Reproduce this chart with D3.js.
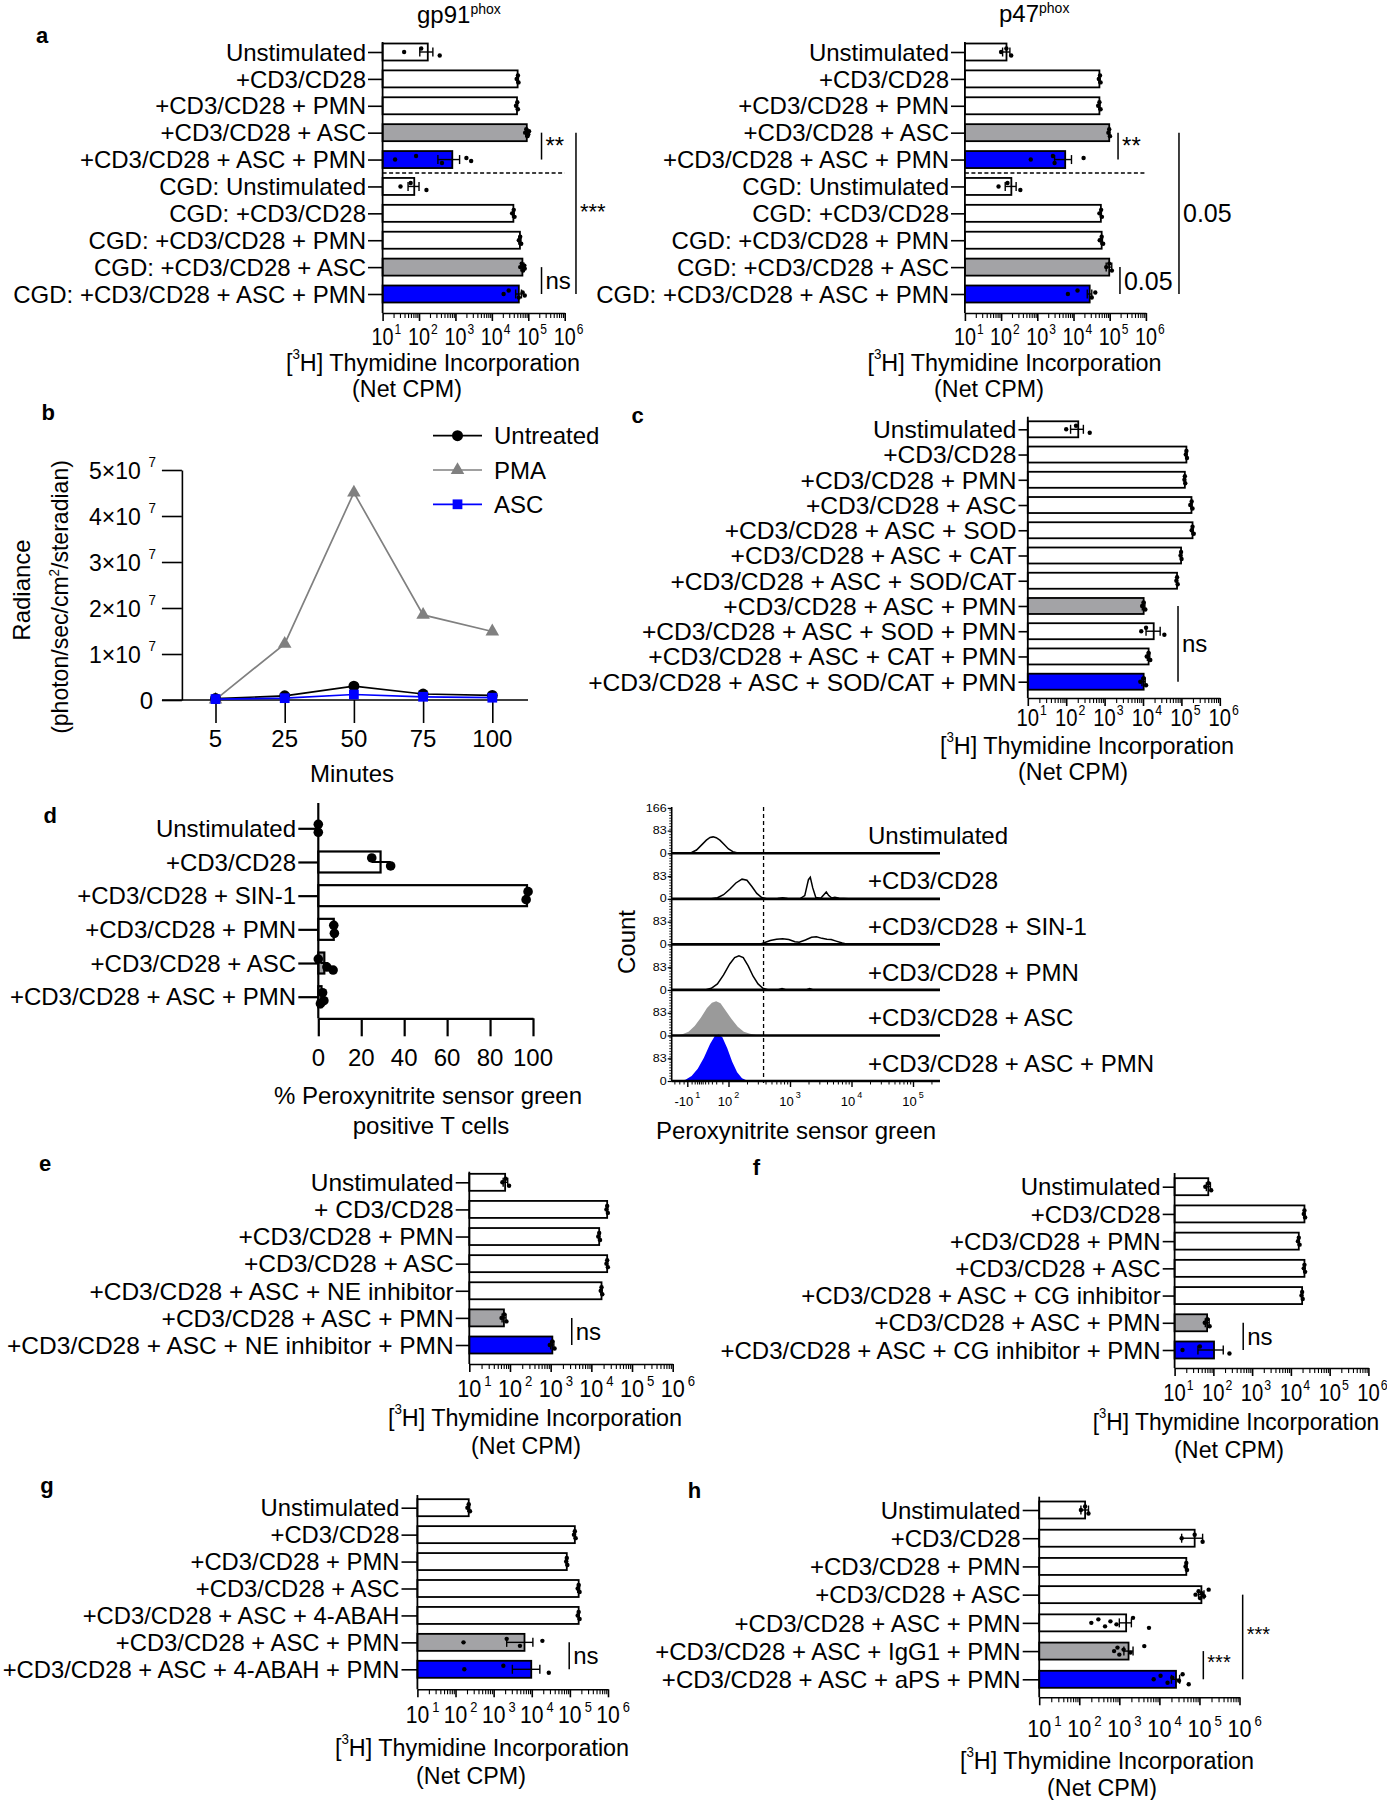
<!DOCTYPE html>
<html><head><meta charset="utf-8">
<script src="https://cdn.jsdelivr.net/npm/d3@7"></script>
<style>body{margin:0;background:#fff}svg{display:block}text{font-family:"Liberation Sans",Arial,sans-serif}</style>
</head><body>
<svg id="fig" width="1387" height="1800"></svg>
<script>
// ---------------- DATA ----------------
const logTicks = [10, 100, 1000, 10000, 100000, 1000000];
const logTickExps = ["1", "2", "3", "4", "5", "6"];

const aCats = ["Unstimulated", "+CD3/CD28", "+CD3/CD28 + PMN", "+CD3/CD28 + ASC", "+CD3/CD28 + ASC + PMN",
  "CGD: Unstimulated", "CGD: +CD3/CD28", "CGD: +CD3/CD28 + PMN", "CGD: +CD3/CD28 + ASC", "CGD: +CD3/CD28 + ASC + PMN"];
const aGpVals = [174, 51000, 49000, 91000, 820, 74, 39000, 59000, 69000, 55000];
const aGpPts = [[39, 115, 370], [48000, 52000, 54000], [46000, 50000, 52000], [82000, 88000, 95000, 105000, 100000],
  [22, 83, 427, 2000, 2700], [31, 59, 160], [36000, 40000, 42000], [55000, 60000, 64000],
  [60000, 66000, 72000, 78000, 80000], [21000, 29000, 55000, 70000, 80000]];
const aGpErr = [[105, 240], [48500, 53500], [47000, 51000], [85000, 97000], [330, 1300], [50, 100],
  [37000, 41000], [55000, 63000], [63000, 76000], [45000, 65000]];
const aP47Vals = [141, 52000, 52000, 97000, 5900, 192, 57000, 60000, 97000, 28000];
const aP47Pts = [[100, 140, 190], [50000, 54000, 56000], [48000, 52000, 56000], [92000, 97000, 102000],
  [660, 2700, 3000, 19000], [85, 150, 340], [52000, 58000, 61000], [53000, 60000, 66000],
  [80000, 97000, 115000], [7000, 12900, 32000, 40000]];
const aP47Err = [[110, 175], [50000, 54000], [50000, 54000], [93000, 101000], [3000, 8800], [130, 260],
  [55000, 59000], [57000, 63000], [80000, 114000], [24000, 32000]];

const bMinutes = ["5", "25", "50", "75", "100"];
const bUntreated = [0.3e6, 0.9e6, 3.0e6, 1.3e6, 1.0e6];
const bPMA = [0.1e6, 12.2e6, 45.1e6, 18.5e6, 14.9e6];
const bASC = [0.2e6, 0.4e6, 1.2e6, 0.7e6, 0.5e6];
const bYTicks = [0, 1e7, 2e7, 3e7, 4e7, 5e7];
const bYTickLabels = ["0", "1×10", "2×10", "3×10", "4×10", "5×10"];
const bLegend = ["Untreated", "PMA", "ASC"];

const cCats = ["Unstimulated", "+CD3/CD28", "+CD3/CD28 + PMN", "+CD3/CD28 + ASC", "+CD3/CD28 + ASC + SOD",
  "+CD3/CD28 + ASC + CAT", "+CD3/CD28 + ASC + SOD/CAT", "+CD3/CD28 + ASC + PMN", "+CD3/CD28 + ASC + SOD + PMN",
  "+CD3/CD28 + ASC + CAT + PMN", "+CD3/CD28 + ASC + SOD/CAT + PMN"];
const cVals = [206, 135000, 123000, 183000, 195000, 98000, 77000, 10400, 19000, 14000, 10400];
const cPts = [[100, 180, 410], [130000, 135000, 140000], [120000, 123000, 126000], [170000, 185000, 195000],
  [185000, 195000, 210000], [95000, 98000, 101000], [74000, 77000, 80000], [9500, 10400, 11500],
  [9000, 12000, 36000], [12500, 14000, 15500], [8500, 10400, 12000]];
const cErr = [[130, 280], [131000, 139000], [120000, 126000], [176000, 190000], [188000, 202000], [95000, 101000],
  [75000, 79000], [9600, 11200], [12000, 28000], [13000, 15000], [9400, 11400]];

const dCats = ["Unstimulated", "+CD3/CD28", "+CD3/CD28 + SIN-1", "+CD3/CD28 + PMN", "+CD3/CD28 + ASC", "+CD3/CD28 + ASC + PMN"];
const dVals = [0, 29, 97.2, 7.2, 2.8, 1.5];
const dPts = [[0, 0], [24.9, 33.7], [97.7, 96.8], [7.2, 7.5], [0, 4.0, 6.9], [2.0, 2.6, 1.0]];
const dErr = [null, [24.9, 33.7], [96.8, 97.7], null, [1.0, 4.6], [1.0, 2.0]];
const dTicks = [0, 20, 40, 60, 80, 100];

// histograms: [display-decade position, count]
const histLabels = ["Unstimulated", "+CD3/CD28", "+CD3/CD28 + SIN-1", "+CD3/CD28 + PMN", "+CD3/CD28 + ASC", "+CD3/CD28 + ASC + PMN"];
const histUnstim = [[1.30,0],[1.40,3],[1.48,12],[1.56,30],[1.64,48],[1.70,58],[1.75,60],[1.80,57],[1.86,48],[1.93,32],[2.00,16],[2.07,6],[2.15,1],[2.22,0]];
const histCD3 = [[1.72,0],[1.82,4],[1.92,15],[2.02,35],[2.12,58],[2.22,72],[2.30,68],[2.38,45],[2.46,20],[2.54,5],[2.62,0],[2.80,1],[2.88,4],[2.96,1],[3.16,0],[3.24,12],[3.30,70],[3.33,79],[3.37,40],[3.42,5],[3.50,2],[3.55,15],[3.59,25],[3.63,12],[3.68,3],[3.73,6],[3.80,2],[3.95,0]];
const histSIN1 = [[2.50,0],[2.58,6],[2.68,14],[2.78,19],[2.88,21],[2.98,18],[3.08,10],[3.15,8],[3.25,16],[3.35,26],[3.43,28],[3.52,22],[3.60,19],[3.67,18],[3.75,12],[3.85,5],[3.95,0]];
const histPMN = [[1.62,0],[1.72,6],[1.82,22],[1.92,55],[2.02,95],[2.10,118],[2.17,125],[2.24,118],[2.32,88],[2.40,50],[2.48,22],[2.56,6],[2.64,1],[2.80,0],[2.87,5],[2.94,0],[3.26,0],[3.32,5],[3.38,0]];
const histASC = [[1.15,0],[1.25,4],[1.35,14],[1.45,35],[1.55,65],[1.65,100],[1.73,120],[1.80,125],[1.87,118],[1.95,92],[2.05,60],[2.15,32],[2.25,14],[2.35,6],[2.45,2],[2.55,0]];
const histASCPMN = [[1.20,0],[1.30,5],[1.40,18],[1.50,45],[1.60,85],[1.70,135],[1.78,165],[1.84,170],[1.90,160],[1.98,120],[2.06,70],[2.14,32],[2.22,10],[2.30,2],[2.38,0]];
const histGate = 2.57;
const histYTicks = [0, 83, 166];
const histXTicks = [1.33, 2, 3, 4, 5];
const histXTickBase = ["-10", "10", "10", "10", "10"];
const histXTickExp = ["1", "2", "3", "4", "5"];

const eCats = ["Unstimulated", "+ CD3/CD28", "+CD3/CD28 + PMN", "+CD3/CD28 + ASC", "+CD3/CD28 + ASC + NE inhibitor",
  "+CD3/CD28 + ASC + PMN", "+CD3/CD28 + ASC + NE inhibitor + PMN"];
const eVals = [76, 24500, 15600, 24500, 17800, 71, 1100];
const ePts = [[65, 78, 95], [23500, 24500, 25500], [14800, 15600, 16400], [23500, 24500, 25500], [17000, 17800, 18600], [62, 72, 82], [950, 1100, 1250]];
const eErr = [[68, 88], [23800, 25200], [15000, 16200], [23800, 25200], [17200, 18400], [64, 80], [1000, 1200]];

const fCats = ["Unstimulated", "+CD3/CD28", "+CD3/CD28 + PMN", "+CD3/CD28 + ASC", "+CD3/CD28 + ASC + CG inhibitor",
  "+CD3/CD28 + ASC + PMN", "+CD3/CD28 + ASC + CG inhibitor + PMN"];
const fVals = [74, 22400, 16000, 22400, 19500, 69, 104];
const fPts = [[62, 75, 88], [21500, 22400, 23300], [15200, 16000, 16800], [21500, 22400, 23300], [18800, 19500, 20200], [60, 70, 80], [16, 45, 260]];
const fErr = [[66, 84], [21800, 23000], [15500, 16500], [21800, 23000], [19000, 20000], [62, 78], [40, 180]];

const gCats = ["Unstimulated", "+CD3/CD28", "+CD3/CD28 + PMN", "+CD3/CD28 + ASC", "+CD3/CD28 + ASC + 4-ABAH",
  "+CD3/CD28 + ASC + PMN", "+CD3/CD28 + ASC + 4-ABAH + PMN"];
const gVals = [222, 135000, 83000, 170000, 170000, 6450, 9700];
const gPts = [[205, 222, 240], [128000, 135000, 142000], [80000, 83000, 86000], [160000, 170000, 180000], [160000, 170000, 180000], [162, 2200, 4900, 19000], [170, 1800, 28000]];
const gErr = [[210, 235], [130000, 140000], [80000, 86000], [160000, 180000], [165000, 175000], [2200, 10700], [3100, 16300]];

const hCats = ["Unstimulated", "+CD3/CD28", "+CD3/CD28 + PMN", "+CD3/CD28 + ASC", "+CD3/CD28 + ASC + PMN",
  "+CD3/CD28 + ASC + IgG1 + PMN", "+CD3/CD28 + ASC + aPS + PMN"];
const hVals = [140, 76000, 47000, 112000, 1480, 1700, 26000];
const hPts = [[110, 140, 170], [36000, 76000, 120000], [45000, 47000, 49000], [80000, 95000, 105000, 115000, 130000, 170000],
  [200, 300, 440, 600, 850, 2200, 5500], [740, 900, 1000, 1280, 1900, 4200], [7200, 10700, 16000, 21000, 31000, 38000, 54000]];
const hErr = [[110, 170], [36000, 120000], [45000, 49000], [95000, 130000], [1000, 2000], [1300, 2200], [20000, 32000]];

// ---------------- STYLE / HELPERS ----------------
const GRAY = "#a3a3a6", BLUE = "#0000ff", SX = 1.0, FS = 24;
const svg = d3.select("#fig");
svg.append("rect").attr("width", 1387).attr("height", 1800).attr("fill", "#fff");

function addText(g, x, y, parts, o = {}) {
  const size = o.size || FS;
  const t = g.append("text")
    .attr("transform", `translate(${x},${y})` + (o.rot ? ` rotate(${o.rot})` : "") + ` scale(${o.sx ?? SX},1)`)
    .attr("text-anchor", o.anchor || "start")
    .attr("font-size", size)
    .attr("font-weight", o.weight || "normal")
    .attr("fill", o.fill || "#000")
    .attr("y", o.mid === false ? 0 : size * 0.36);
  if (typeof parts === "string") parts = [parts];
  let cur = 0;
  parts.forEach(p => {
    const isSup = typeof p === "object";
    const target = isSup ? -(p.raise ?? size * 0.45) : 0;
    const ts = t.append("tspan").text(isSup ? p.sup : p).attr("dy", target - cur);
    if (isSup) ts.attr("font-size", p.size ?? Math.round(size * 0.6));
    if (isSup && p.dx) ts.attr("dx", p.dx);
    cur = target;
  });
  return t;
}
// "10" centred on the tick, exponent hanging to the right (one text element)
function powLabel(g, x, y, base, exp, o) {
  const size = o.size, sx = o.sx;
  const half = (base.length * 0.556 * size * sx) / 2;
  addText(g, x - half, y, [base, { sup: exp, size: o.supSize, raise: o.raise, dx: (o.dx || 0) / sx }], { anchor: "start", size, sx });
}
const jit = [0, -3.5, 3.5, -1.5, 1.5, -5, 5];

function logPanel(L, D) {
  const g = svg.append("g");
  const fs = L.fs || FS;
  const x = d3.scaleLog().domain([10, 1e6]).range([L.x0, L.x1]);
  const y = d3.scalePoint().domain(D.cats).range([L.y1, L.yN]);
  g.append("g").selectAll("rect").data(D.vals).join("rect")
    .attr("x", L.x0).attr("y", (v, i) => y(D.cats[i]) - L.barH / 2)
    .attr("width", v => x(v) - L.x0).attr("height", L.barH)
    .attr("fill", (v, i) => D.gray.includes(i) ? GRAY : D.blue.includes(i) ? BLUE : "#fff")
    .attr("stroke", "#000").attr("stroke-width", 1.8);
  D.err.forEach((e, i) => {
    if (!e) return;
    const cy = y(D.cats[i]);
    g.append("line").attr("x1", x(e[0])).attr("x2", x(e[1])).attr("y1", cy).attr("y2", cy).attr("stroke", "#000").attr("stroke-width", 1.4);
    e.forEach(v => g.append("line").attr("x1", x(v)).attr("x2", x(v)).attr("y1", cy - 4.5).attr("y2", cy + 4.5).attr("stroke", "#000").attr("stroke-width", 1.4));
  });
  D.pts.forEach((arr, i) => {
    g.append("g").selectAll("circle").data(arr).join("circle")
      .attr("cx", v => x(v)).attr("cy", (v, j) => y(D.cats[i]) + jit[j % jit.length])
      .attr("r", 2.2).attr("fill", "#000");
  });
  if (D.dashAfter != null) {
    const yy = (y(D.cats[D.dashAfter]) + y(D.cats[D.dashAfter + 1])) / 2;
    g.append("line").attr("x1", L.x0).attr("x2", L.x1).attr("y1", yy).attr("y2", yy)
      .attr("stroke", "#000").attr("stroke-width", 1.5).attr("stroke-dasharray", "4,2.5");
  }
  g.append("g").attr("transform", `translate(${L.x0},0)`)
    .call(d3.axisLeft(y).tickSize(L.x0 - L.labelRight - 2).tickFormat(""))
    .call(a => a.select(".domain").remove())
    .selectAll("line").attr("stroke-width", 1.6);
  g.append("line").attr("x1", L.x0).attr("x2", L.x0).attr("y1", L.yTop).attr("y2", L.axisY).attr("stroke", "#000").attr("stroke-width", 1.8);
  D.cats.forEach(c => addText(g, L.labelRight, y(c), c, { anchor: "end", size: fs }));
  const ax = g.append("g").attr("transform", `translate(0,${L.axisY})`)
    .call(d3.axisBottom(x).tickValues(logTicks).tickSize(8).tickSizeOuter(0).tickFormat(""));
  ax.selectAll("path,line").attr("stroke-width", 1.6);
  g.append("g").attr("transform", `translate(0,${L.axisY})`)
    .call(d3.axisBottom(x).tickValues(x.ticks().filter(v => !logTicks.includes(v))).tickSize(5).tickFormat(""))
    .call(a => a.select(".domain").remove())
    .selectAll("line").attr("stroke-width", 1.1);
  logTicks.forEach((v, i) => powLabel(g, x(v), L.tickY, "10", logTickExps[i], { size: 23, sx: L.tsx || 0.9, supSize: 14, dx: L.supDx ?? 0, raise: 11 }));
  addText(g, L.t1x, L.t1y, ["[", { sup: "3", size: 14, raise: 12 }, "H] Thymidine Incorporation"], { anchor: "middle", size: 24.5, sx: L.titleSx || 0.955 });
  addText(g, L.t2x, L.t2y, "(Net CPM)", { anchor: "middle", size: 24.5, sx: 0.95 });
  (D.sig || []).forEach(s => {
    const xx = x(s.xv), ya = y(D.cats[s.from]), yb = y(D.cats[s.to]);
    g.append("line").attr("x1", xx).attr("x2", xx).attr("y1", ya).attr("y2", yb).attr("stroke", "#000").attr("stroke-width", 1.5);
    addText(g, xx + 4, (ya + yb) / 2 + (s.dy || 0), s.label, { size: s.size || 24 });
  });
}

// ---------------- PANEL a ----------------
addText(svg, 36, 35, "a", { weight: "bold", size: 22 });
addText(svg, 417, 23, ["gp91", { sup: "phox", size: 14, raise: 9 }], { mid: false, size: 24 });
addText(svg, 999, 22, ["p47", { sup: "phox", size: 14, raise: 9 }], { mid: false, size: 24 });
logPanel({ x0: 382.6, x1: 564.7, y1: 52, yN: 294, barH: 17, axisY: 313, yTop: 42, labelRight: 366, tickY: 337, t1x: 433, t1y: 362, t2x: 407, t2y: 388, tsx: 0.86, supDx: 1 },
  { cats: aCats, vals: aGpVals, pts: aGpPts, err: aGpErr, gray: [3, 8], blue: [4, 9], dashAfter: 4,
    sig: [{ xv: 231000, from: 3, to: 4, label: "**", size: 24, dy: -1 }, { xv: 2.04e6, from: 3, to: 9, label: "***", size: 22, dy: -2 }, { xv: 231000, from: 8, to: 9, label: "ns" }] });
logPanel({ x0: 964.9, x1: 1145.9, y1: 52, yN: 294, barH: 17, axisY: 313, yTop: 42, labelRight: 949, tickY: 337, t1x: 1014.5, t1y: 362, t2x: 989, t2y: 388, tsx: 0.86, supDx: 1 },
  { cats: aCats, vals: aP47Vals, pts: aP47Pts, err: aP47Err, gray: [3, 8], blue: [4, 9], dashAfter: 4,
    sig: [{ xv: 170000, from: 3, to: 4, label: "**", size: 24, dy: -1 }, { xv: 8.2e6, from: 3, to: 9, label: "0.05", size: 25 }, { xv: 192000, from: 8, to: 9, label: "0.05", size: 25 }] });

// ---------------- PANEL b ----------------
(function () {
  const g = svg.append("g");
  addText(g, 41.5, 411.7, "b", { weight: "bold", size: 22 });
  const x = d3.scalePoint().domain(bMinutes).range([215.5, 492.3]);
  const y = d3.scaleLinear().domain([0, 5e7]).range([700, 470]);
  g.append("g").attr("transform", "translate(181.9,0)")
    .call(d3.axisLeft(y).tickValues(bYTicks).tickSize(20).tickSizeOuter(0).tickFormat(""))
    .selectAll("path,line").attr("stroke-width", 1.6);
  g.append("g").attr("transform", "translate(0,700)")
    .call(d3.axisBottom(x).tickSize(23).tickFormat(""))
    .call(a => a.select(".domain").remove())
    .selectAll("line").attr("stroke-width", 1.6);
  g.append("line").attr("x1", 162).attr("x2", 528).attr("y1", 700).attr("y2", 700).attr("stroke", "#000").attr("stroke-width", 1.6);
  bYTicks.forEach((v, i) => {
    if (i === 0) addText(g, 153, y(v), bYTickLabels[i], { anchor: "end", size: 24 });
    else addText(g, 156, y(v), [bYTickLabels[i], { sup: "7", size: 14, raise: 12, dx: 8 }], { anchor: "end", size: 24, sx: 0.96 });
  });
  bMinutes.forEach(m => addText(g, x(m), 738, m, { anchor: "middle", size: 24 }));
  addText(g, 352, 773, "Minutes", { anchor: "middle", size: 24 });
  addText(g, 21.7, 590, "Radiance", { anchor: "middle", rot: -90, size: 24 });
  addText(g, 59.3, 597, ["(photon/sec/cm", { sup: "2", size: 14, raise: 9 }, "/steradian)"], { anchor: "middle", rot: -90, size: 24, sx: 0.96 });
  const series = [
    { name: bLegend[1], vals: bPMA, color: "#808080", mark: "tri" },
    { name: bLegend[0], vals: bUntreated, color: "#000", mark: "circ" },
    { name: bLegend[2], vals: bASC, color: BLUE, mark: "sq" }];
  const line = d3.line().x((d, i) => x(bMinutes[i])).y(d => y(d));
  const sym = { circ: d3.symbolCircle, tri: d3.symbolTriangle, sq: d3.symbolSquare };
  const symSize = { circ: 95, tri: 80, sq: 95 };
  series.forEach(s => {
    g.append("path").attr("d", line(s.vals)).attr("fill", "none").attr("stroke", s.color).attr("stroke-width", 1.7);
    g.append("g").selectAll("path").data(s.vals).join("path")
      .attr("transform", (d, i) => `translate(${x(bMinutes[i])},${y(d)})`)
      .attr("d", d3.symbol(sym[s.mark], symSize[s.mark])).attr("fill", s.color);
  });
  const legY = d3.scalePoint().domain(bLegend).range([435.7, 504.3]);
  [series[1], series[0], series[2]].forEach(s => {
    const yy = legY(s.name);
    g.append("line").attr("x1", 433).attr("x2", 482).attr("y1", yy).attr("y2", yy).attr("stroke", s.color).attr("stroke-width", 1.7);
    g.append("path").attr("transform", `translate(457.5,${yy})`).attr("d", d3.symbol(sym[s.mark], symSize[s.mark])).attr("fill", s.color);
    addText(g, 494, yy, s.name, { size: 24 });
  });
})();

// ---------------- PANEL c ----------------
addText(svg, 631.5, 415, "c", { weight: "bold", size: 22 });
logPanel({ x0: 1027.8, x1: 1219.8, y1: 429.3, yN: 681.7, barH: 16, axisY: 698, yTop: 416.7, labelRight: 1016.5, tickY: 718, t1x: 1087, t1y: 745, t2x: 1073, t2y: 771, fs: 24.6, tsx: 0.88, supDx: 1 },
  { cats: cCats, vals: cVals, pts: cPts, err: cErr, gray: [7], blue: [10], sig: [{ xv: 81600, from: 7, to: 10, label: "ns" }] });

// ---------------- PANEL d (bars) ----------------
(function () {
  const g = svg.append("g");
  addText(g, 43.5, 815, "d", { weight: "bold", size: 22 });
  const x = d3.scaleLinear().domain([0, 100]).range([318.3, 533]);
  const y = d3.scalePoint().domain(dCats).range([828.3, 996.7]);
  g.append("g").selectAll("rect").data(dVals).join("rect")
    .attr("x", x(0)).attr("y", (v, i) => y(dCats[i]) - 10.5).attr("width", v => x(v) - x(0)).attr("height", 21)
    .attr("fill", (v, i) => i === 4 ? GRAY : "#fff").attr("stroke", "#000").attr("stroke-width", 2.2);
  dErr.forEach((e, i) => {
    if (!e) return;
    const cy = y(dCats[i]);
    g.append("line").attr("x1", x(e[0])).attr("x2", x(e[1])).attr("y1", cy).attr("y2", cy).attr("stroke", "#000").attr("stroke-width", 2);
  });
  dPts.forEach((arr, i) => g.append("g").selectAll("circle").data(arr).join("circle")
    .attr("cx", v => x(v)).attr("cy", (v, j) => y(dCats[i]) + [-4, 4, 7][j % 3]).attr("r", 4.8).attr("fill", "#000"));
  g.append("g").attr("transform", `translate(${x(0)},0)`)
    .call(d3.axisLeft(y).tickSize(20).tickFormat(""))
    .call(a => a.select(".domain").remove())
    .selectAll("line").attr("stroke-width", 2.2);
  g.append("line").attr("x1", x(0)).attr("x2", x(0)).attr("y1", 803).attr("y2", 1018.3).attr("stroke", "#000").attr("stroke-width", 2.2);
  dCats.forEach(c => addText(g, 296, y(c), c, { anchor: "end", size: 24 }));
  g.append("g").attr("transform", "translate(0,1018.3)")
    .call(d3.axisBottom(x).tickValues(dTicks).tickSize(18).tickSizeOuter(0).tickFormat(""))
    .selectAll("path,line").attr("stroke-width", 2.2);
  dTicks.forEach(v => addText(g, x(v), 1057, String(v), { anchor: "middle", size: 24 }));
  addText(g, 428, 1095, "% Peroxynitrite sensor green", { anchor: "middle", size: 24 });
  addText(g, 431, 1125, "positive T cells", { anchor: "middle", size: 24 });
})();

// ---------------- PANEL d (histograms) ----------------
(function () {
  const g = svg.append("g");
  const hx = d3.scaleLinear().domain([2, 5]).range([728.5, 913]);
  const rows = d3.scalePoint().domain(histLabels).range([853.3, 1081]);
  const hy = d3.scaleLinear().domain([0, 166]).range([0, 45.4]);
  const data = [histUnstim, histCD3, histSIN1, histPMN, histASC, histASCPMN];
  const fills = [null, null, null, null, "#9a9a9a", BLUE];
  const x0 = hx.invert(671.7), x1 = hx.invert(940);
  data.forEach((d, i) => {
    const base = rows(histLabels[i]);
    if (fills[i]) {
      g.append("path").attr("d", d3.area().x(p => hx(p[0])).y0(base).y1(p => base - hy(p[1]))(d)).attr("fill", fills[i]);
    } else {
      g.append("path").attr("d", d3.line().x(p => hx(p[0])).y(p => base - hy(p[1]))(d)).attr("fill", "none").attr("stroke", "#000").attr("stroke-width", 1.5);
    }
  });
  data.forEach((d, i) => {
    const base = rows(histLabels[i]);
    g.append("line").attr("x1", hx(x0)).attr("x2", hx(x1)).attr("y1", base).attr("y2", base).attr("stroke", "#000").attr("stroke-width", 2.6);
    const tv = i === 0 ? histYTicks : histYTicks.slice(0, 2);
    g.append("g").attr("transform", `translate(${hx(x0)},${base})`)
      .call(d3.axisLeft(d3.scaleLinear().domain([0, 166]).range([0, -45.4])).tickValues(tv).tickSize(4).tickFormat(""))
      .call(a => a.select(".domain").remove())
      .selectAll("line").attr("stroke-width", 1.2);
    g.append("g").attr("transform", `translate(${hx(x0)},${base})`)
      .call(d3.axisLeft(d3.scaleLinear().domain([0, 166]).range([0, -45.4])).ticks(16).tickSize(2.5).tickFormat(""))
      .call(a => a.select(".domain").remove())
      .selectAll("line").attr("stroke-width", 0.8);
    tv.forEach(v => addText(g, hx(x0) - 5, base - hy(v), String(v), { anchor: "end", size: 10, sx: 1.25 }));
    addText(g, 868, base - 18, histLabels[i], { size: 24 });
  });
  g.append("line").attr("x1", hx(x0)).attr("x2", hx(x0)).attr("y1", 807).attr("y2", rows(histLabels[5])).attr("stroke", "#000").attr("stroke-width", 1.6);
  g.append("line").attr("x1", hx(histGate)).attr("x2", hx(histGate)).attr("y1", 807).attr("y2", 1083)
    .attr("stroke", "#000").attr("stroke-width", 1.3).attr("stroke-dasharray", "4,3");
  const minorU = [];
  [2, 3, 4].forEach(n => [2, 3, 4, 5, 6, 7, 8, 9].forEach(k => minorU.push(n + Math.log10(k))));
  [1.12, 1.2, 1.27, 1.4, 1.45, 1.49, 1.52, 1.55, 1.58, 1.62, 1.67, 1.73, 1.8, 1.9, 5.3].forEach(u => minorU.push(u));
  const base = rows(histLabels[5]);
  g.append("g").attr("transform", `translate(0,${base})`)
    .call(d3.axisBottom(hx).tickValues(histXTicks).tickSize(6).tickFormat(""))
    .call(a => a.select(".domain").remove()).selectAll("line").attr("stroke-width", 1.4);
  g.append("g").attr("transform", `translate(0,${base})`)
    .call(d3.axisBottom(hx).tickValues(minorU).tickSize(3.5).tickFormat(""))
    .call(a => a.select(".domain").remove()).selectAll("line").attr("stroke-width", 1);
  histXTicks.forEach((u, i) => addText(g, hx(u), 1101, [histXTickBase[i], { sup: histXTickExp[i], size: 9, raise: 8, dx: 2 }], { anchor: "middle", size: 13 }));
  addText(g, 626, 942, "Count", { anchor: "middle", rot: -90, size: 24 });
  addText(g, 796, 1130, "Peroxynitrite sensor green", { anchor: "middle", size: 24 });
})();

// ---------------- PANELS e-h ----------------
addText(svg, 39, 1163, "e", { weight: "bold", size: 22 });
logPanel({ x0: 469.3, x1: 672.7, y1: 1182.3, yN: 1345, barH: 17, axisY: 1364, yTop: 1171.7, labelRight: 453.7, tickY: 1389, t1x: 535, t1y: 1417, t2x: 526, t2y: 1445, fs: 24.5, tsx: 0.94, supDx: 3 },
  { cats: eCats, vals: eVals, pts: ePts, err: eErr, gray: [5], blue: [6], sig: [{ xv: 3300, from: 5, to: 6, label: "ns" }] });
addText(svg, 752.7, 1166.7, "f", { weight: "bold", size: 22 });
logPanel({ x0: 1174.6, x1: 1368.4, y1: 1186.7, yN: 1350, barH: 17, axisY: 1368, yTop: 1173, labelRight: 1160.7, tickY: 1393, t1x: 1236, t1y: 1421, t2x: 1229, t2y: 1449, tsx: 0.88, supDx: 1, titleSx: 0.93 },
  { cats: fCats, vals: fVals, pts: fPts, err: fErr, gray: [5], blue: [6], sig: [{ xv: 589, from: 5, to: 6, label: "ns" }] });
addText(svg, 40.2, 1485, "g", { weight: "bold", size: 22 });
logPanel({ x0: 417.4, x1: 608, y1: 1507.7, yN: 1669.3, barH: 17, axisY: 1689.3, yTop: 1495, labelRight: 399.5, tickY: 1715, t1x: 482, t1y: 1747.5, t2x: 471, t2y: 1775, fs: 23.8, tsx: 0.92, supDx: 3 },
  { cats: gCats, vals: gVals, pts: gPts, err: gErr, gray: [5], blue: [6], sig: [{ xv: 96000, from: 5, to: 6, label: "ns" }] });
addText(svg, 687.8, 1490, "h", { weight: "bold", size: 22 });
logPanel({ x0: 1039.2, x1: 1239.5, y1: 1510, yN: 1679.3, barH: 17, axisY: 1697.3, yTop: 1496.7, labelRight: 1020.7, tickY: 1729, t1x: 1107, t1y: 1760, t2x: 1102, t2y: 1787, tsx: 0.94, supDx: 3 },
  { cats: hCats, vals: hVals, pts: hPts, err: hErr, gray: [5], blue: [6],
    sig: [{ xv: 125000, from: 5, to: 6, label: "***", size: 20, dy: -3 }, { xv: 1.2e6, from: 3, to: 6, label: "***", size: 20, dy: -3 }] });
</script>
</body></html>
